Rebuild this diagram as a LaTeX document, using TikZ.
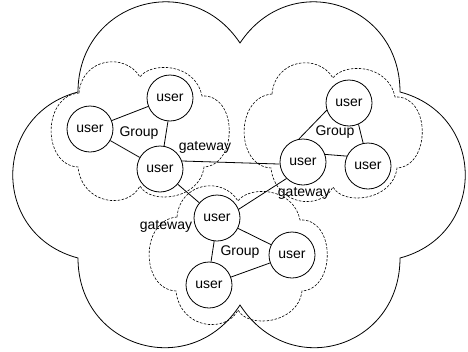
\documentclass[tikz,border=0pt]{standalone}
\usepackage{fontspec}
\setmainfont{Liberation Sans}
\newcommand\groupcloudpath{(79,93) .. controls (82,58) and (125,52) .. (140,77)
  .. controls (150,62) and (195,62) .. (202,96)
  .. controls (238,94) and (238,165) .. (204,167)
  .. controls (200,200) and (150,205) .. (140,186)
  .. controls (128,210) and (82,205) .. (78,167)
  .. controls (42,165) and (42,96) .. (79,93)}
\begin{document}
\begin{tikzpicture}[x=1pt,y=-1pt,
  user/.style={circle,draw,fill=white,line width=0.8pt,minimum size=46pt,inner sep=0pt,font=\fontsize{14}{16}\selectfont},
  lbl/.style={inner sep=0pt,font=\fontsize{14}{16}\selectfont},
  link/.style={line width=0.8pt},
  outercloud/.style={line width=0.8pt},
  grpcloud/.style={line width=0.6pt,dash pattern=on 2.5pt off 1.5pt}]
\useasboundingbox (0,0) rectangle (468,351);
% outer cloud
\draw[outercloud] (78,92) .. controls (78,2) and (190,-32) .. (240,43)
  .. controls (290,-32) and (400,2) .. (400,92)
  .. controls (487,115) and (487,235) .. (400,258)
  .. controls (400,348) and (290,382) .. (240,305)
  .. controls (190,382) and (78,348) .. (78,258)
  .. controls (-9,235) and (-9,115) .. (78,92) -- cycle;
% group clouds
\draw[grpcloud] \groupcloudpath;
\draw[grpcloud,shift={(193,1)}] \groupcloudpath;
\draw[grpcloud,shift={(98,124)}] \groupcloudpath;
% users
\node[user] (L1) at (90,129) {user};
\node[user] (L2) at (170,98) {user};
\node[user] (L3) at (160,169) {user};
\node[user] (R1) at (349,103) {user};
\node[user] (R2) at (303,162) {user};
\node[user] (R3) at (368,166) {user};
\node[user] (B1) at (217,218) {user};
\node[user] (B2) at (292,255) {user};
\node[user] (B3) at (209,285) {user};
% links
\draw[link] (L1) -- (L2);
\draw[link] (L1) -- (L3);
\draw[link] (L2.-95) -- (L3.80);
\draw[link] (L3.20) -- (R2.185);
\draw[link] (L3) -- (B1);
\draw[link] (R2.100) -- (R1.198);
\draw[link] (R2.19) -- (R3.155);
\draw[link] (R1.-66) -- (R3.102);
\draw[link] (B1.22) -- (R2.225);
\draw[link] (B1) -- (B2);
\draw[link] (B1.-97) -- (B3.85);
\draw[link] (B2) -- (B3);
% labels
\node[lbl] (g1) at (139,133) {Group};
\node[lbl] (g2) at (335,132) {Group};
\node[lbl] (g3) at (240,252) {Group};
\node[lbl] (w1) at (205,147) {gateway};
\node[lbl] (w2) at (304,193) {gateway};
\node[lbl] (w3) at (166,226) {gateway};
\end{tikzpicture}
\end{document}
